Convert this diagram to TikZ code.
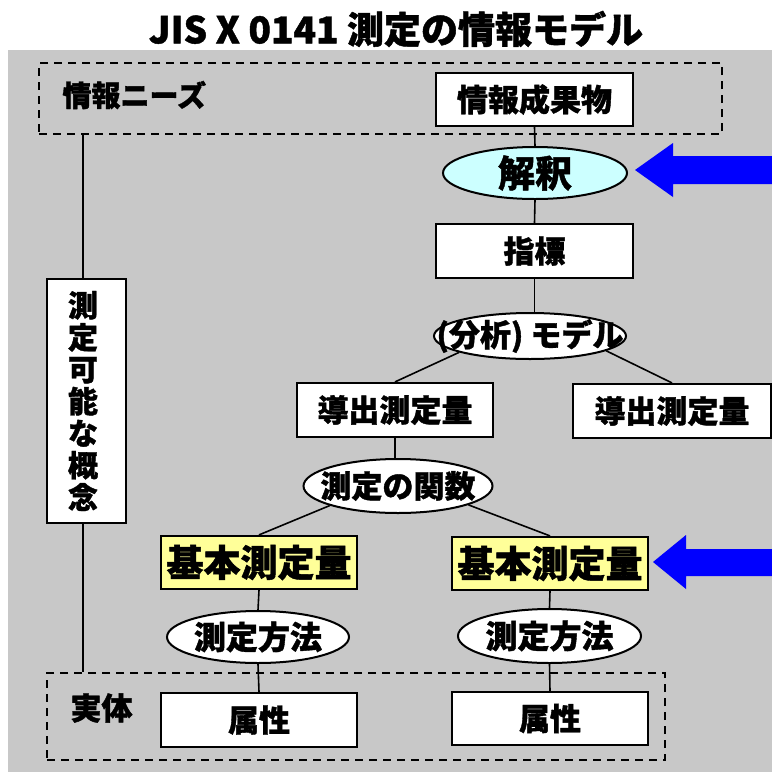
\documentclass[tikz,border=0pt]{standalone}
\usepackage{fontspec}
\setmainfont{Noto Sans CJK JP}[BoldFeatures={FakeBold=1.2}]
\usetikzlibrary{shapes.geometric}
\newcommand\fsz[1]{\fontsize{#1}{#1}\selectfont\bfseries}
\definecolor{bggray}{RGB}{200,200,200}
\definecolor{lcyan}{RGB}{204,255,255}
\definecolor{lyellow}{RGB}{255,255,153}
\definecolor{arrblue}{RGB}{0,0,255}
\tikzset{
  box/.style={draw, line width=2.2pt, fill=white, inner sep=0pt, minimum width=196pt, minimum height=53pt},
  ybox/.style={box, fill=lyellow},
  ell/.style={ellipse, draw, line width=2pt, fill=white, inner sep=0pt},
  conn/.style={line width=1.6pt},
  dbox/.style={draw, line width=1.6pt, dash pattern=on 8pt off 6pt, inner sep=0pt},
  bigarrow/.style={fill=arrblue},
}
\begin{document}
\begin{tikzpicture}[x=1pt,y=-1pt]
\useasboundingbox (0,0) rectangle (772,772);
\fill[bggray] (8,50) rectangle (772,772);

% title
\node[font=\fsz{37}] (title) at (396,29) {JIS X 0141 測定の情報モデル};

% dashed group boxes
\node[dbox, minimum width=683pt, minimum height=71pt] (needs) at (380.5,98.5) {};
\node[font=\fsz{29}, anchor=west] (needslbl) at (59,95) {情報ニーズ};
\node[dbox, minimum width=618pt, minimum height=87pt] (entity) at (356,716.5) {};
\node[font=\fsz{31}, anchor=west] (entitylbl) at (67,708) {実体};

% right column
\node[box, minimum width=197pt, font=\fsz{31}] (product) at (534.5,99.5) {情報成果物};
\node[ell, fill=lcyan, minimum width=184pt, minimum height=52pt,
      label={[font=\fsz{37}]center:解釈}] (interp) at (535,173) {};
\node[box, minimum width=197pt, minimum height=54pt, font=\fsz{31}] (indicator) at (534.5,251) {指標};
\node[ell, minimum width=192pt, minimum height=46pt,
      label={[font=\fsz{31}]center:(分析) モデル}] (model) at (530,336) {};
\node[box, minimum height=54pt, font=\fsz{31}] (derl) at (395,410) {導出測定量};
\node[box, minimum width=198pt, minimum height=54pt, font=\fsz{31}] (derr) at (672,411) {導出測定量};
\node[ell, minimum width=189pt, minimum height=54pt,
      label={[font=\fsz{31}]center:測定の関数}] (func) at (398,486) {};
\node[ybox, font=\fsz{37}] (basel) at (259,562.5) {基本測定量};
\node[ybox, font=\fsz{37}] (baser) at (550,563.5) {基本測定量};
\node[ell, minimum width=182pt, minimum height=52pt,
      label={[font=\fsz{32}]center:測定方法}] (methl) at (258,637) {};
\node[ell, minimum width=183pt, minimum height=54pt,
      label={[font=\fsz{32}]center:測定方法}] (methr) at (549.5,636) {};
\node[box, minimum height=54pt, font=\fsz{31}] (attrl) at (259,720) {属性};
\node[box, font=\fsz{31}] (attrr) at (550,718.5) {属性};

% measurable concept
\node[box, minimum width=79pt, minimum height=244pt,
      label={[font=\fontsize{30}{32}\selectfont\bfseries, align=center, xshift=-3.5pt]center:測\\定\\可\\能\\な\\概\\念}] (concept) at (86.5,401) {};
\coordinate (vx) at (83,0);

% connectors
\draw[conn] (product.south) -- (interp.north);
\draw[conn] (interp.south) -- (indicator.north);
\draw[conn] (indicator.south) -- (indicator.south |- model.north);
\draw[conn] (model.193) -- (derl.north);
\draw[conn] (model.-11) -- (derr.north);
\draw[conn] (derl.south) -- (derl.south |- func.north);
\draw[conn] (func.196) -- (basel.north);
\draw[conn] (func.-15) -- (baser.north);
\draw[conn] (basel.south) -- (methl.north);
\draw[conn] (methl.south) -- (attrl.north);
\draw[conn] (baser.south) -- (methr.north);
\draw[conn] (methr.south) -- (attrr.north);
\draw[conn] (needs.south -| vx) -- (concept.north -| vx);
\draw[conn] (concept.south -| vx) -- (entity.north -| vx);

% blue arrows
\fill[bigarrow] (635,170) -- (673,143) -- (673,156) -- (772,156) -- (772,184) -- (673,184) -- (673,197) -- cycle;
\fill[bigarrow] (653,562) -- (686,535) -- (686,549) -- (772,549) -- (772,576) -- (686,576) -- (686,589) -- cycle;
\end{tikzpicture}
\end{document}
